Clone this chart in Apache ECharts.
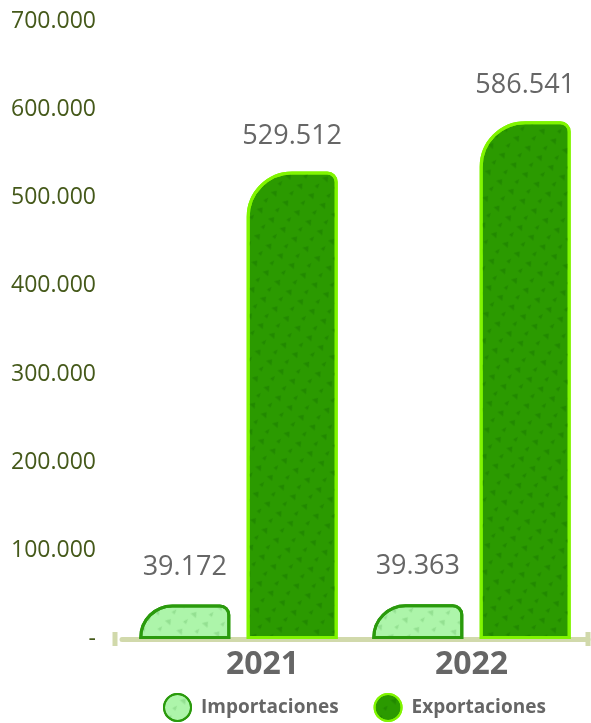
<!DOCTYPE html>
<html>
<head>
<meta charset="utf-8">
<script src="https://cdn.jsdelivr.net/npm/echarts@6/dist/echarts.min.js"></script>
<style>html,body{margin:0;padding:0;background:#fff;}#c{width:591px;height:723px;}</style>
</head>
<body>
<div id="c"></div>
<script>
var categories = ['2021', '2022'];
var importaciones = [39172, 39363];
var exportaciones = [529512, 586541];
var yTicks = [0, 100000, 200000, 300000, 400000, 500000, 600000, 700000];

function fmt(v) {
  if (v === 0) return '-';
  return String(Math.round(v)).replace(/\B(?=(\d{3})+(?!\d))/g, '.');
}

var chart = echarts.init(document.getElementById('c'));
chart.setOption({
  backgroundColor: '#ffffff',
  animation: false,
  textStyle: { fontFamily: 'Open Sans' },
  grid: { left: 122, right: 3, top: 21, bottom: 84 },
  legend: {
    bottom: 1,
    left: 163,
    padding: 0,
    itemWidth: 27,
    itemHeight: 27,
    itemGap: 35,
    icon: 'circle',
    textStyle: { fontSize: 19, fontWeight: 'bold', color: '#666666', fontFamily: 'Open Sans', padding: [0, 0, 0, 5] },
    data: ['Importaciones', 'Exportaciones']
  },
  xAxis: {
    type: 'category',
    data: categories,
    axisLine: {
      show: true,
      lineStyle: { color: '#d1d9ab', width: 5, cap: 'round' },
      symbol: ['rect', 'rect'],
      symbolSize: [14, 5],
      symbolOffset: [-7, 0]
    },
    axisTick: { show: false },
    axisLabel: {
      margin: 10,
      fontSize: 32,
      fontWeight: 'bold',
      color: '#666666',
      fontFamily: 'Open Sans',
      formatter: function (v, i) { return i === 0 ? '{a|' + v + '}' : '{b|' + v + '}'; },
      rich: {
        a: { fontSize: 32, fontWeight: 'bold', color: '#666666', fontFamily: 'Open Sans', padding: [0, 0, 0, 48] },
        b: { fontSize: 32, fontWeight: 'bold', color: '#666666', fontFamily: 'Open Sans' }
      }
    }
  },
  yAxis: {
    type: 'value',
    min: 0,
    max: 700000,
    interval: 100000,
    splitLine: { show: false },
    axisLine: { show: false },
    axisTick: { show: false },
    axisLabel: {
      margin: 26,
      fontSize: 23,
      color: '#45591a',
      fontFamily: 'Open Sans',
      formatter: function (v) { return fmt(v); }
    }
  },
  series: [
    {
      name: 'Importaciones',
      type: 'bar',
      data: importaciones,
      barWidth: 91,
      barGap: '18%',
      itemStyle: {
        color: '#adf5aa',
        borderColor: '#2a9a0c',
        borderWidth: 3,
        borderRadius: [46, 9, 0, 0],
        decal: {
          symbol: 'triangle',
          symbolSize: 0.8,
          color: 'rgba(70,160,70,0.25)',
          dashArrayX: [[9, 6], [5, 10]],
          dashArrayY: [6, 5],
          rotation: 0.7
        }
      },
      label: {
        show: true,
        position: 'top',
        distance: 24,
        fontSize: 27,
        color: '#666666',
        fontFamily: 'Open Sans',
        formatter: function (p) { return fmt(p.value); }
      }
    },
    {
      name: 'Exportaciones',
      type: 'bar',
      data: exportaciones,
      barWidth: 91,
      itemStyle: {
        color: '#2b9a00',
        borderColor: '#80f500',
        borderWidth: 3,
        borderRadius: [44, 9, 0, 0],
        decal: {
          symbol: 'triangle',
          symbolSize: 0.8,
          color: 'rgba(20,110,0,0.4)',
          dashArrayX: [[9, 6], [5, 10]],
          dashArrayY: [6, 5],
          rotation: 0.7
        }
      },
      label: {
        show: true,
        position: 'top',
        distance: 22,
        fontSize: 27,
        color: '#666666',
        fontFamily: 'Open Sans',
        formatter: function (p) { return fmt(p.value); }
      }
    }
  ]
});
</script>
</body>
</html>
